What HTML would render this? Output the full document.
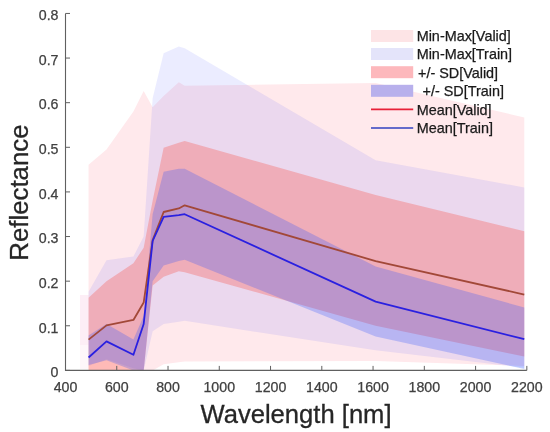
<!DOCTYPE html>
<html><head><meta charset="utf-8"><style>
html,body{margin:0;padding:0;background:#fff;width:550px;height:432px;overflow:hidden}
svg{display:block;filter:blur(0.35px)}
</style></head><body>
<svg width="550" height="432" viewBox="0 0 550 432">
<rect width="550" height="432" fill="#ffffff"/>
<rect x="80" y="295" width="8.5" height="50" fill="#fdeef6"/><rect x="80" y="345" width="8.5" height="24" fill="#fef6fa"/>
<polygon points="88.57,164.70 106.51,149.53 133.42,111.60 143.67,91.08 152.64,107.14 163.66,95.99 178.78,82.15 184.68,85.72 375.62,83.05 524.28,117.40 524.28,365.94 375.62,361.03 184.68,361.48 178.78,362.37 163.66,364.15 152.64,370.40 143.67,370.40 133.42,370.40 106.51,370.40 88.57,370.40" fill="#ff1030" fill-opacity="0.09"/>
<polygon points="88.57,291.87 106.51,260.19 133.42,256.62 143.67,236.54 152.64,98.22 163.66,53.15 178.78,46.46 184.68,48.24 375.62,160.24 524.28,187.46 524.28,367.72 375.62,350.32 184.68,320.87 178.78,321.76 163.66,324.00 152.64,331.13 143.67,370.40 133.42,368.17 106.51,359.25 88.57,365.94" fill="#3a48ff" fill-opacity="0.1"/>
<polygon points="88.57,297.67 106.51,281.16 133.42,263.31 143.67,247.69 152.64,200.84 163.66,147.75 178.78,142.84 184.68,141.05 375.62,195.04 524.28,231.19 524.28,356.57 375.62,325.78 184.68,272.24 178.78,271.34 163.66,276.70 152.64,285.62 143.67,370.40 133.42,370.40 106.51,370.40 88.57,370.40" fill="#ff2008" fill-opacity="0.23"/>
<polygon points="88.57,335.60 106.51,324.00 133.42,339.61 143.67,315.96 152.64,214.23 163.66,171.84 178.78,168.72 184.68,168.72 375.62,266.44 524.28,307.49 524.28,369.06 375.62,336.49 184.68,259.74 178.78,261.08 163.66,265.54 152.64,281.16 143.67,370.40 133.42,370.40 106.51,360.14 88.57,365.05" fill="#2850ff" fill-opacity="0.26"/>
<polyline points="88.57,339.61 106.51,325.33 133.42,319.98 143.67,302.58 152.64,240.11 163.66,212.00 178.78,208.43 184.68,205.31 375.62,261.08 524.28,294.55" fill="none" stroke="#a24838" stroke-width="1.8" stroke-linejoin="round"/>
<polyline points="88.57,357.46 106.51,341.40 133.42,354.78 143.67,324.00 152.64,241.00 163.66,216.91 178.78,215.12 184.68,214.23 375.62,301.69 524.28,339.17" fill="none" stroke="#2a20e0" stroke-width="1.8" stroke-linejoin="round"/>
<path d="M65.50 13.44 V370.40 H526.84" fill="none" stroke="#606060" stroke-width="1.1"/>
<path d="M65.50 370.40 h4.5 M65.50 325.78 h4.5 M65.50 281.16 h4.5 M65.50 236.54 h4.5 M65.50 191.92 h4.5 M65.50 147.30 h4.5 M65.50 102.68 h4.5 M65.50 58.06 h4.5 M65.50 13.44 h4.5 M65.50 370.40 v-4.5 M116.76 370.40 v-4.5 M168.02 370.40 v-4.5 M219.28 370.40 v-4.5 M270.54 370.40 v-4.5 M321.80 370.40 v-4.5 M373.06 370.40 v-4.5 M424.32 370.40 v-4.5 M475.58 370.40 v-4.5 M526.84 370.40 v-4.5" fill="none" stroke="#606060" stroke-width="1"/>
<text x="58.50" y="377.20" font-family="Liberation Sans, sans-serif" font-size="14.2" fill="#404040" stroke="#404040" stroke-width="0.25" text-anchor="end">0</text>
<text x="58.50" y="332.58" font-family="Liberation Sans, sans-serif" font-size="14.2" fill="#404040" stroke="#404040" stroke-width="0.25" text-anchor="end">0.1</text>
<text x="58.50" y="287.96" font-family="Liberation Sans, sans-serif" font-size="14.2" fill="#404040" stroke="#404040" stroke-width="0.25" text-anchor="end">0.2</text>
<text x="58.50" y="243.34" font-family="Liberation Sans, sans-serif" font-size="14.2" fill="#404040" stroke="#404040" stroke-width="0.25" text-anchor="end">0.3</text>
<text x="58.50" y="198.72" font-family="Liberation Sans, sans-serif" font-size="14.2" fill="#404040" stroke="#404040" stroke-width="0.25" text-anchor="end">0.4</text>
<text x="58.50" y="154.10" font-family="Liberation Sans, sans-serif" font-size="14.2" fill="#404040" stroke="#404040" stroke-width="0.25" text-anchor="end">0.5</text>
<text x="58.50" y="109.48" font-family="Liberation Sans, sans-serif" font-size="14.2" fill="#404040" stroke="#404040" stroke-width="0.25" text-anchor="end">0.6</text>
<text x="58.50" y="64.86" font-family="Liberation Sans, sans-serif" font-size="14.2" fill="#404040" stroke="#404040" stroke-width="0.25" text-anchor="end">0.7</text>
<text x="58.50" y="20.24" font-family="Liberation Sans, sans-serif" font-size="14.2" fill="#404040" stroke="#404040" stroke-width="0.25" text-anchor="end">0.8</text>
<text x="65.50" y="392.00" font-family="Liberation Sans, sans-serif" font-size="14.2" fill="#404040" stroke="#404040" stroke-width="0.25" text-anchor="middle">400</text>
<text x="116.76" y="392.00" font-family="Liberation Sans, sans-serif" font-size="14.2" fill="#404040" stroke="#404040" stroke-width="0.25" text-anchor="middle">600</text>
<text x="168.02" y="392.00" font-family="Liberation Sans, sans-serif" font-size="14.2" fill="#404040" stroke="#404040" stroke-width="0.25" text-anchor="middle">800</text>
<text x="219.28" y="392.00" font-family="Liberation Sans, sans-serif" font-size="14.2" fill="#404040" stroke="#404040" stroke-width="0.25" text-anchor="middle">1000</text>
<text x="270.54" y="392.00" font-family="Liberation Sans, sans-serif" font-size="14.2" fill="#404040" stroke="#404040" stroke-width="0.25" text-anchor="middle">1200</text>
<text x="321.80" y="392.00" font-family="Liberation Sans, sans-serif" font-size="14.2" fill="#404040" stroke="#404040" stroke-width="0.25" text-anchor="middle">1400</text>
<text x="373.06" y="392.00" font-family="Liberation Sans, sans-serif" font-size="14.2" fill="#404040" stroke="#404040" stroke-width="0.25" text-anchor="middle">1600</text>
<text x="424.32" y="392.00" font-family="Liberation Sans, sans-serif" font-size="14.2" fill="#404040" stroke="#404040" stroke-width="0.25" text-anchor="middle">1800</text>
<text x="475.58" y="392.00" font-family="Liberation Sans, sans-serif" font-size="14.2" fill="#404040" stroke="#404040" stroke-width="0.25" text-anchor="middle">2000</text>
<text x="526.84" y="392.00" font-family="Liberation Sans, sans-serif" font-size="14.2" fill="#404040" stroke="#404040" stroke-width="0.25" text-anchor="middle">2200</text>
<text x="296" y="422.5" font-family="Liberation Sans, sans-serif" font-size="25.6" fill="#262626" stroke="#262626" stroke-width="0.3" text-anchor="middle">Wavelength [nm]</text>
<text transform="translate(28.3,192.6) rotate(-90)" x="0" y="0" font-family="Liberation Sans, sans-serif" font-size="25.8" fill="#262626" stroke="#262626" stroke-width="0.3" text-anchor="middle">Reflectance</text>
<rect x="371.00" y="30.00" width="42.20" height="12" fill="#fde4e6"/>
<rect x="371.00" y="48.00" width="42.20" height="12" fill="#e4e4fa"/>
<rect x="371.00" y="66.20" width="42.20" height="12" fill="#fdb8bc"/>
<rect x="371.00" y="84.80" width="42.20" height="12" fill="#b8b0ec"/>
<line x1="371.00" y1="109.40" x2="413.20" y2="109.40" stroke="#e82038" stroke-width="1.6"/>
<line x1="371.00" y1="128.00" x2="413.20" y2="128.00" stroke="#3040c0" stroke-width="1.6"/>
<text x="416.70" y="41.40" font-family="Liberation Sans, sans-serif" font-size="14.4" fill="#1a1a1a" stroke="#1a1a1a" stroke-width="0.25">Min-Max[Valid]</text>
<text x="416.70" y="59.40" font-family="Liberation Sans, sans-serif" font-size="14.4" fill="#1a1a1a" stroke="#1a1a1a" stroke-width="0.25">Min-Max[Train]</text>
<text x="418.00" y="77.60" font-family="Liberation Sans, sans-serif" font-size="14.4" fill="#1a1a1a" stroke="#1a1a1a" stroke-width="0.25">+/- SD[Valid]</text>
<text x="422.50" y="96.20" font-family="Liberation Sans, sans-serif" font-size="14.4" fill="#1a1a1a" stroke="#1a1a1a" stroke-width="0.25">+/- SD[Train]</text>
<text x="416.70" y="114.80" font-family="Liberation Sans, sans-serif" font-size="14.4" fill="#1a1a1a" stroke="#1a1a1a" stroke-width="0.25">Mean[Valid]</text>
<text x="416.70" y="133.40" font-family="Liberation Sans, sans-serif" font-size="14.4" fill="#1a1a1a" stroke="#1a1a1a" stroke-width="0.25">Mean[Train]</text>
</svg>
</body></html>
